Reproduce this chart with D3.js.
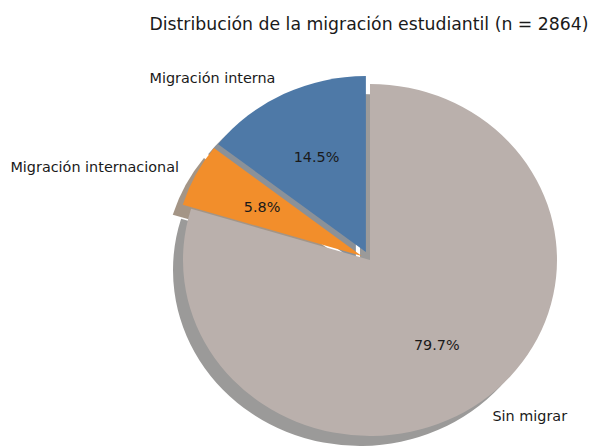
<!DOCTYPE html>
<html>
<head>
<meta charset="utf-8">
<script src="https://cdn.jsdelivr.net/npm/d3@7"></script>
<style>
  body { margin: 0; background: #fff; }
  text { font-family: "DejaVu Sans", sans-serif; fill: #1a1a1a; }
</style>
</head>
<body>
<div id="chart"></div>
<script>
// data
const categories = ['Migración interna', 'Migración internacional', 'Sin migrar'];
const percents = [14.5, 5.8, 79.7];
const explode = [0.05, 0.05, 0];
const colors = ['#4e79a7', '#f28e2b', '#bab0ac'];
const title = 'Distribución de la migración estudiantil (n = 2864)';

const width = 590, height = 447;
const cx = 370, cy = 260;
const rx = 187, ry = 176;   // the source axes are slightly squashed
const shadowDx = -10, shadowDy = 10;

const svg = d3.select('#chart').append('svg')
    .attr('width', width)
    .attr('height', height);

svg.append('text')
    .attr('x', cx - 1)
    .attr('y', 30)
    .attr('text-anchor', 'middle')
    .style('font-size', '17.3px')
    .text(title);

// start at 12 o'clock, go counter-clockwise like matplotlib
const pie = d3.pie().sort(null).startAngle(0).endAngle(-2 * Math.PI);
const arcs = pie(percents);
const arc = d3.arc().innerRadius(0).outerRadius(rx);

const mid = d => (d.startAngle + d.endAngle) / 2;
// offset in circle space for an exploded slice
const offs = (d, i, f) => [Math.sin(mid(d)) * rx * f, -Math.cos(mid(d)) * rx * f];

const shade = c => {
    const k = d3.rgb(c);
    return d3.rgb(k.r * 0.3, k.g * 0.3, k.b * 0.3).toString();
};

// shadows first, under every wedge
const shadowG = svg.append('g')
    .attr('transform', `translate(${cx + shadowDx},${cy + shadowDy}) scale(1,${ry / rx})`);
shadowG.selectAll('path')
    .data(arcs)
    .join('path')
    .attr('transform', (d, i) => `translate(${offs(d, i, explode[i])})`)
    .attr('d', arc)
    .attr('fill', (d, i) => shade(colors[i]))
    .attr('fill-opacity', 0.5);

const pieG = svg.append('g')
    .attr('transform', `translate(${cx},${cy}) scale(1,${ry / rx})`);
pieG.selectAll('path')
    .data(arcs)
    .join('path')
    .attr('transform', (d, i) => `translate(${offs(d, i, explode[i])})`)
    .attr('d', arc)
    .attr('fill', (d, i) => colors[i]);

// category labels at 1.1 r from the (exploded) centre
const toScreen = (d, i, f) => {
    const o = offs(d, i, explode[i] + f);
    return [cx + o[0], cy + o[1] * ry / rx];
};

svg.selectAll('text.cat')
    .data(arcs)
    .join('text')
    .attr('class', 'cat')
    .attr('x', (d, i) => toScreen(d, i, 1.1)[0])
    .attr('y', (d, i) => toScreen(d, i, 1.1)[1])
    .attr('dy', '0.35em')
    .attr('text-anchor', d => Math.sin(mid(d)) < 0 ? 'end' : 'start')
    .style('font-size', '14.4px')
    .text((d, i) => categories[i]);

svg.selectAll('text.pct')
    .data(arcs)
    .join('text')
    .attr('class', 'pct')
    .attr('x', (d, i) => toScreen(d, i, 0.6)[0])
    .attr('y', (d, i) => toScreen(d, i, 0.6)[1])
    .attr('dy', '0.35em')
    .attr('text-anchor', 'middle')
    .style('font-size', '14.4px')
    .text(d => d.data.toFixed(1) + '%');
</script>
</body>
</html>
